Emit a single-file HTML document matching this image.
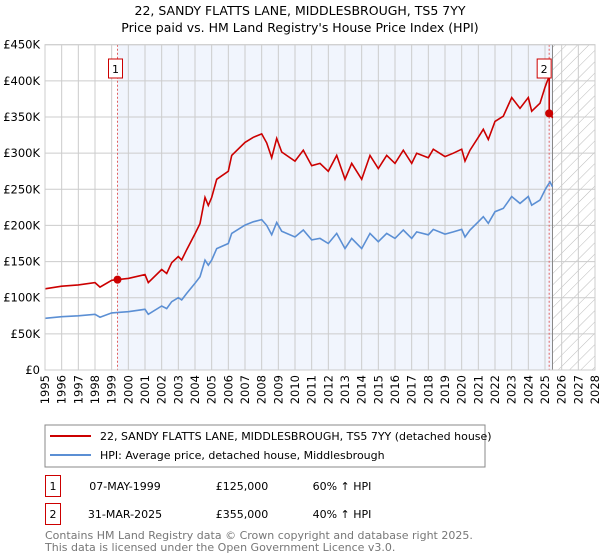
<!DOCTYPE html>
<html><head><meta charset="utf-8"><style>
body{margin:0;background:#fff;font-family:"Liberation Sans","DejaVu Sans",sans-serif;}
#wrap{position:relative;width:600px;height:560px;overflow:hidden;}
svg text{font-family:"DejaVu Sans","Liberation Sans",sans-serif;}
</style></head><body>
<div id="wrap">
<svg id="chart" width="600" height="560" xmlns="http://www.w3.org/2000/svg">
<defs>
<pattern id="hatch" width="8" height="8" patternUnits="userSpaceOnUse" patternTransform="rotate(45)">
<line x1="0" y1="0" x2="0" y2="8" stroke="#bbb" stroke-width="1"/>
</pattern>
</defs>
<text x="300" y="15" text-anchor="middle" font-size="12.5" fill="#000">22, SANDY FLATTS LANE, MIDDLESBROUGH, TS5 7YY</text>
<text x="300" y="32" text-anchor="middle" font-size="12.5" fill="#000">Price paid vs. HM Land Registry's House Price Index (HPI)</text>
<g id="plot"></g>
<rect x="45" y="425" width="440" height="42" fill="#fff" stroke="#888"/>
<line x1="50" y1="436" x2="91" y2="436" stroke="#cc0000" stroke-width="2"/>
<text x="100" y="440" font-size="11">22, SANDY FLATTS LANE, MIDDLESBROUGH, TS5 7YY (detached house)</text>
<line x1="50" y1="455" x2="91" y2="455" stroke="#5b8fd4" stroke-width="2"/>
<text x="100" y="459" font-size="11">HPI: Average price, detached house, Middlesbrough</text>
<g>
<rect x="45.5" y="475.5" width="15" height="21" fill="#fff" stroke="#cc0000"/>
<text x="53" y="490" text-anchor="middle" font-size="11">1</text>
<text x="125" y="490" text-anchor="middle" font-size="11">07-MAY-1999</text>
<text x="242" y="490" text-anchor="middle" font-size="11">£125,000</text>
<text x="342" y="490" text-anchor="middle" font-size="11">60% ↑ HPI</text>
</g>
<g>
<rect x="45.5" y="503.5" width="15" height="21" fill="#fff" stroke="#cc0000"/>
<text x="53" y="518" text-anchor="middle" font-size="11">2</text>
<text x="125" y="518" text-anchor="middle" font-size="11">31-MAR-2025</text>
<text x="242" y="518" text-anchor="middle" font-size="11">£355,000</text>
<text x="342" y="518" text-anchor="middle" font-size="11">40% ↑ HPI</text>
</g>
<text x="45" y="539" font-size="11" fill="#777">Contains HM Land Registry data © Crown copyright and database right 2025.</text>
<text x="45" y="551" font-size="11" fill="#777">This data is licensed under the Open Government Licence v3.0.</text>
</svg>
</div>
<script>
const hpiYears=[1995,1996,1997,1998,1998.3,1999,2000,2001,2001.2,2002,2002.3,2002.6,2003,2003.2,2003.5,2004,2004.3,2004.6,2004.8,2005,2005.3,2006,2006.2,2007,2007.5,2008,2008.3,2008.6,2008.9,2009.2,2010,2010.5,2011,2011.5,2012,2012.5,2013,2013.4,2014,2014.5,2015,2015.5,2016,2016.5,2017,2017.3,2018,2018.3,2019,2019.5,2020,2020.2,2020.5,2021,2021.3,2021.6,2022,2022.5,2023,2023.5,2024,2024.2,2024.7,2025,2025.15,2025.3,2025.45];
const hpiValues=[71.5,73.8,75,77,73,79,80.7,84,77,88.5,85,94.5,100,97,106,120,129,152,145,152,168,175,189,200.5,205,208,200,187,204,192,184,193.6,180,182,175,189,168,182,168,189,177.5,189,182,193.6,182,191,187,194.5,188,191,194.5,184,193.6,205,212,203,219,223.6,240,230.5,240,228,235,249,255,260,253.6];
const sales=[{year:1999.35,price:125},{year:2025.25,price:355}];
const yTicks=[0,50,100,150,200,250,300,350,400,450];
const xYears=[];for(let y=1995;y<=2028;y++)xYears.push(y);
const dataEnd=2025.45;

const X0=45,X1=595,Y0=370,Y1=44.7;
const xs=y=>X0+(y-1995)/(2028-1995)*(X1-X0);
const ys=v=>Y0-v/450*(Y0-Y1);
const NS="http://www.w3.org/2000/svg";
const plot=document.getElementById('plot');
function mk(t,a){const e=document.createElementNS(NS,t);for(const k in a)e.setAttribute(k,a[k]);plot.appendChild(e);return e;}

function hpiAt(y){for(let i=0;i<hpiYears.length-1;i++){if(y>=hpiYears[i]&&y<=hpiYears[i+1]){const t=(y-hpiYears[i])/(hpiYears[i+1]-hpiYears[i]);return hpiValues[i]+t*(hpiValues[i+1]-hpiValues[i]);}}return hpiValues[hpiValues.length-1];}

let el=mk('rect',{x:xs(sales[0].year),y:Y1,width:xs(dataEnd)-xs(sales[0].year),height:Y0-Y1,fill:'#eef3fd',opacity:0.8});

el=mk('rect',{x:xs(dataEnd),y:Y1,width:X1-xs(dataEnd),height:Y0-Y1,fill:'url(#hatch)'});


yTicks.forEach(v=>{
 let g=mk('line',{x1:X0,x2:X1,y1:ys(v),y2:ys(v),stroke:'#ccc','stroke-width':1});
 
 let t=mk('text',{x:40,y:ys(v)+4,'text-anchor':'end','font-size':11.5,fill:'#000'});
 t.textContent=v===0?'£0':'£'+v+'K';
 
});
xYears.forEach(y=>{
 let g=mk('line',{x1:xs(y),x2:xs(y),y1:Y1,y2:Y0,stroke:'#ccc','stroke-width':1});
 
 let t=mk('text',{x:0,y:0,'text-anchor':'end','font-size':11.5,transform:`translate(${xs(y)+4},${Y0+5}) rotate(-90)`});
 t.textContent=y;
 
});
el=mk('line',{x1:xs(dataEnd),x2:xs(dataEnd),y1:Y1,y2:Y0,stroke:'#888','stroke-width':1});


sales.forEach((s,i)=>{
 let l=mk('line',{x1:xs(s.year),x2:xs(s.year),y1:Y1,y2:Y0,stroke:'#e06060','stroke-width':1,'stroke-dasharray':'2,2'});
 
});

let p=hpiYears.map((y,i)=>(i?'L':'M')+xs(y).toFixed(1)+','+ys(hpiValues[i]).toFixed(1)).join('');
el=mk('path',{d:p,fill:'none',stroke:'#5b8fd4','stroke-width':1.6});


const f1=sales[0].price/hpiAt(sales[0].year);
const f2=sales[1].price/hpiAt(sales[1].year);
let pts=[];
hpiYears.forEach((y,i)=>{if(y<sales[1].year)pts.push([y,hpiValues[i]*f1]);});
pts.push([sales[1].year,hpiAt(sales[1].year)*f1]);
pts.push([sales[1].year,sales[1].price]);
hpiYears.forEach((y,i)=>{if(y>sales[1].year)pts.push([y,hpiValues[i]*f2]);});
p=pts.map((q,i)=>(i?'L':'M')+xs(q[0]).toFixed(1)+','+ys(q[1]).toFixed(1)).join('');
el=mk('path',{d:p,fill:'none',stroke:'#cc0000','stroke-width':1.6});


sales.forEach((s,i)=>{
 let c=mk('circle',{cx:xs(s.year),cy:ys(s.price),r:4,fill:'#cc0000'});
 
 let bx=xs(s.year)-(i===0?9:12);
 let r=mk('rect',{x:bx,y:59,width:14,height:19,fill:'#fff',stroke:'#cc0000'});
 
 let t=mk('text',{x:bx+7,y:73,'text-anchor':'middle','font-size':11});
 t.textContent=String(i+1);
 
});
el=mk('rect',{x:X0,y:Y1,width:X1-X0,height:Y0-Y1,fill:'none',stroke:'#ccc'});

</script>
</body></html>
